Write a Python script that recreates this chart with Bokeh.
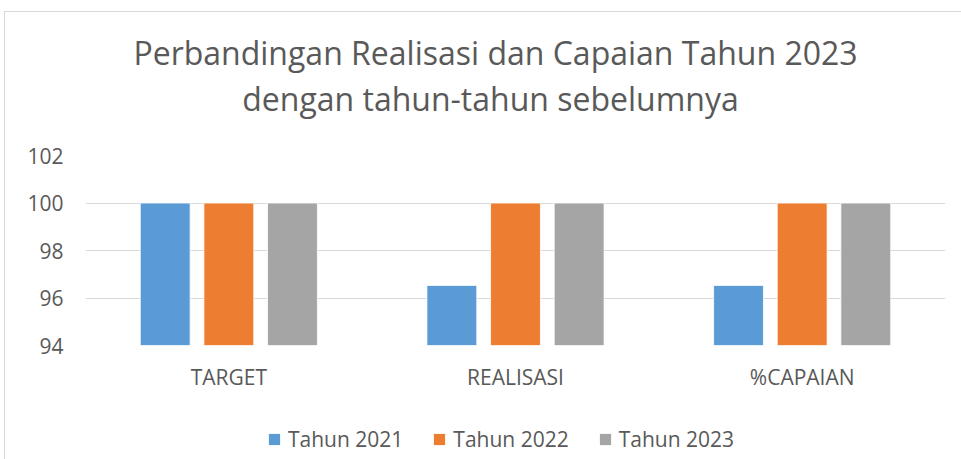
from bokeh.plotting import figure
from bokeh.layouts import column
from bokeh.models import FactorRange, Range1d, Legend, LegendItem, Label, FixedTicker
from bokeh.transform import dodge
from bokeh.embed import file_html
from bokeh.resources import INLINE

categories = ["TARGET", "REALISASI", "%CAPAIAN"]
tahun_2021 = [100, 96.53, 96.53]
tahun_2022 = [100, 100, 100]
tahun_2023 = [100, 100, 100]
series_names = ["Tahun 2021", "Tahun 2022", "Tahun 2023"]
y_ticks = [94, 96, 98, 100, 102]
title_lines = ["Perbandingan Realisasi dan Capaian Tahun 2023",
               "dengan tahun-tahun sebelumnya"]

colors = ["#5B9BD5", "#ED7D31", "#A5A5A5"]
offsets = [-0.222, 0.0, 0.222]
FONT = "Open Sans"
TXT = "#595959"
W = 956


def blank(height, **kw):
    f = figure(width=W, height=height, output_backend="svg", toolbar_location=None,
               x_axis_location=None, y_axis_location=None, min_border_left=0,
               min_border_right=0, min_border_top=0, min_border_bottom=0, **kw)
    f.outline_line_color = None
    f.grid.visible = False
    return f


# ---- title strip ----
p0 = blank(119, x_range=Range1d(0, 1), y_range=Range1d(0, 1))
for text, sx, sy in [(title_lines[0], 410, 79), (title_lines[1], 405, 33)]:
    p0.add_layout(Label(x=sx, y=sy, x_units="screen", y_units="screen", text=text,
                        text_font=FONT, text_font_size="32px", text_color=TXT,
                        text_align="center", text_baseline="alphabetic"))

# ---- main chart ----
p = figure(width=W, height=288, x_range=FactorRange(*categories, range_padding=0),
           y_range=Range1d(y_ticks[0], y_ticks[-1]), output_backend="svg",
           toolbar_location=None, min_border_left=80, min_border_right=16,
           min_border_top=24, min_border_bottom=74)
p.outline_line_color = None

data = {"cat": categories, "s0": tahun_2021, "s1": tahun_2022, "s2": tahun_2023}
for i, key in enumerate(["s0", "s1", "s2"]):
    p.vbar(x=dodge("cat", offsets[i], range=p.x_range), top=key, bottom=y_ticks[0],
           width=0.174, source=data, fill_color=colors[i], line_color="white",
           line_width=0.8)

p.xgrid.visible = False
p.ygrid.grid_line_color = "#D9D9D9"
p.ygrid.grid_line_width = 1.2
p.yaxis.ticker = FixedTicker(ticks=y_ticks)
p.yaxis.minor_tick_line_color = None
for ax in (p.xaxis[0], p.yaxis[0]):
    ax.axis_line_color = None
    ax.major_tick_line_color = None
    ax.major_label_text_font = FONT
    ax.major_label_text_color = TXT
    ax.major_label_text_font_size = "21px"
p.yaxis.major_label_standoff = 16
p.xaxis.major_label_standoff = 11

# ---- legend strip ----
p2 = blank(40, x_range=FactorRange(*categories), y_range=Range1d(0, 1))
leg_renderers = []
for i, key in enumerate(["s0", "s1", "s2"]):
    r = p2.vbar(x="cat", top=key, width=0.174, source=data, fill_color=colors[i],
                line_color=None, visible=False)
    leg_renderers.append(r)
legend = Legend(items=[LegendItem(label=series_names[i], renderers=[leg_renderers[i]])
                       for i in range(3)],
                orientation="horizontal", location=(182, 6), label_text_font=FONT,
                label_text_font_size="21px", label_text_color=TXT, glyph_width=14,
                glyph_height=14, spacing=29, border_line_color=None,
                background_fill_alpha=0, inactive_fill_alpha=0, padding=0, margin=0,
                label_standoff=7)
p2.add_layout(legend, "center")

layout = column(p0, p, p2, spacing=0)
layout.styles = {"margin": "11px 0 0 4px", "border-left": "1px solid #D9D9D9",
                 "border-top": "1px solid #D9D9D9"}

open("out.html", "w").write(file_html(layout, INLINE))
